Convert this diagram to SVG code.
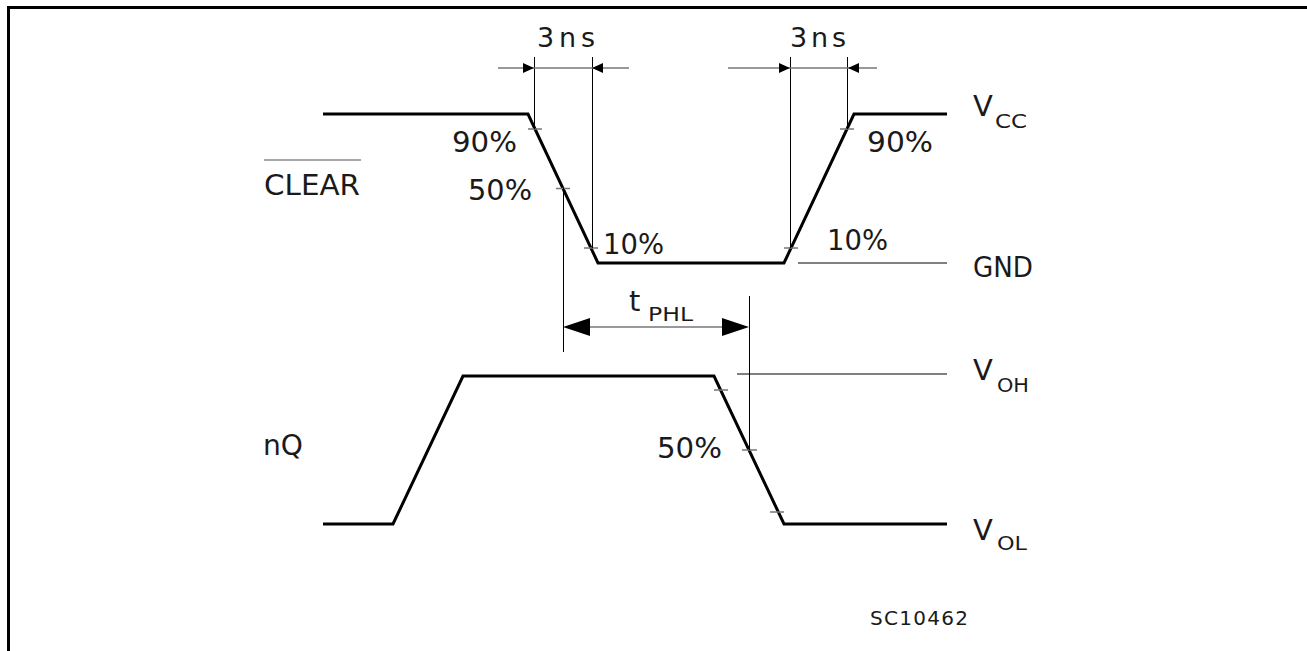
<svg xmlns="http://www.w3.org/2000/svg" width="1307" height="651" viewBox="0 0 1307 651">
<style>
.frame{fill:none;stroke:#000;stroke-width:3}
.wave{fill:none;stroke:#000;stroke-width:3;stroke-linejoin:miter}
.thin{fill:none;stroke:#000;stroke-width:1}
.tick{fill:none;stroke:#777;stroke-width:1.5}
.dim{fill:none;stroke:#777;stroke-width:1.5}
.ah{fill:#000;stroke:none}
text{font-family:"DejaVu Sans","Liberation Sans",Arial,sans-serif;fill:#1a1a1a}
.lbl{font-size:29px}
.sm{font-size:27px}
.sub{font-size:20px}
.id{font-size:20px}
</style>
<rect width="1307" height="651" fill="#fff"/>
<path class="frame" d="M8.5,651 V7.5 H1307"/>
<g id="clear-signal">
<path class="wave" d="M323,114 H528 L598,263 H784 L854,114 H947"/>
<path class="tick" d="M528,129 H542 M556,188.5 H570 M584,248 H598 M784,248 H798 M840,129 H854"/>
<line class="thin" x1="798" y1="263" x2="947" y2="263"/>
</g>
<g id="nq-signal">
<path class="wave" d="M323,524 H393 L463,376 H714 L784,524 H947"/>
<path class="tick" d="M714,390 H728 M742,450 H757 M770,512 H784"/>
<line class="thin" x1="737" y1="374" x2="947" y2="374"/>
</g>
<g id="connectors">
<line class="thin" x1="534.5" y1="57" x2="534.5" y2="129"/>
<line class="thin" x1="592.5" y1="57" x2="592.5" y2="248"/>
<line class="thin" x1="790.5" y1="57" x2="790.5" y2="248"/>
<line class="thin" x1="847.5" y1="57" x2="847.5" y2="129"/>
<line class="dim" x1="498" y1="68" x2="629" y2="68"/>
<path class="ah" d="M534,68 L523,63 L523,73 Z M592,68 L603,63 L603,73 Z"/>
<line class="dim" x1="728" y1="68" x2="877" y2="68"/>
<path class="ah" d="M790,68 L779,63 L779,73 Z M848,68 L859,63 L859,73 Z"/>
<line class="thin" x1="563.5" y1="188" x2="563.5" y2="352"/>
<line class="thin" x1="749.5" y1="296" x2="749.5" y2="450"/>
<line class="dim" x1="588" y1="327" x2="724" y2="327"/>
<path class="ah" d="M563,327 L590,318 L590,336 Z M749,327 L722,318 L722,336 Z"/>
</g>
<g id="labels">
<text class="sm" x="537" y="47" textLength="58" lengthAdjust="spacing">3ns</text>
<text class="sm" x="790" y="47" textLength="56" lengthAdjust="spacing">3ns</text>
<text class="lbl" x="452" y="152" textLength="65" lengthAdjust="spacingAndGlyphs">90%</text>
<text class="lbl" x="468" y="200" textLength="64" lengthAdjust="spacingAndGlyphs">50%</text>
<text class="lbl" x="603" y="254" textLength="61" lengthAdjust="spacingAndGlyphs">10%</text>
<text class="lbl" x="867" y="152" textLength="66" lengthAdjust="spacingAndGlyphs">90%</text>
<text class="lbl" x="827" y="250" textLength="61" lengthAdjust="spacingAndGlyphs">10%</text>
<text class="lbl" x="264" y="195" textLength="96" lengthAdjust="spacingAndGlyphs">CLEAR</text>
<line x1="264" y1="160" x2="361" y2="160" stroke="#888" stroke-width="1.5"/>
<text class="lbl" x="263" y="455" textLength="40" lengthAdjust="spacingAndGlyphs">nQ</text>
<text class="lbl" x="657" y="458" textLength="65" lengthAdjust="spacingAndGlyphs">50%</text>
<text class="lbl" x="973" y="116">V</text>
<text class="sub" x="995" y="128" textLength="32" lengthAdjust="spacingAndGlyphs">CC</text>
<text class="lbl" x="973" y="277" textLength="60" lengthAdjust="spacingAndGlyphs">GND</text>
<text class="lbl" x="973" y="380">V</text>
<text class="sub" x="997" y="392" textLength="32" lengthAdjust="spacingAndGlyphs">OH</text>
<text class="lbl" x="973" y="540">V</text>
<text class="sub" x="997" y="550" textLength="30" lengthAdjust="spacingAndGlyphs">OL</text>
<text class="lbl" x="629" y="311">t</text>
<text class="sub" x="648" y="321" textLength="45" lengthAdjust="spacingAndGlyphs">PHL</text>
<text class="id" x="870" y="625" textLength="98" lengthAdjust="spacing">SC10462</text>
</g>
</svg>
